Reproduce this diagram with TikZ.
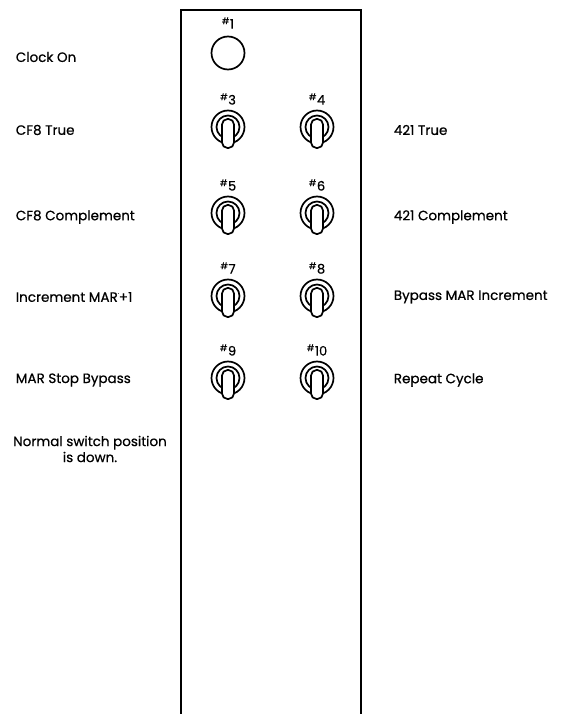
\documentclass[tikz,border=0pt]{standalone}
\usepackage{fontspec}
\setmainfont[FakeBold=0.6]{Poppins}
\begin{document}
\begin{tikzpicture}[x=1pt,y=-1pt,line width=1.7pt,
	lbl/.style={anchor=west,inner sep=0pt,font=\fontsize{13.5}{16}\selectfont},
	num/.style={inner sep=0pt,font=\fontsize{13}{15}\selectfont}]
	\useasboundingbox (0,0) rectangle (566,714);
	% panel
	\draw (181,714) -- (181,10) -- (361,10) -- (361,714);
	% clock button
	\draw (228,53) circle (16.5);
	\node[num] (n1) at (228,23) {\textsuperscript{\#}1};
	% toggle switches
	\foreach \n/\x/\y in {3/228/127,4/317/127,5/228/213,6/317/213,7/228/296,8/317/296,9/228/378,10/317/378}{
		\draw (\x,\y) circle (16.5);
		\draw (\x,\y) circle (11.5);
		\draw[fill=white,rounded corners=5.5] (\x-6,\y-8) rectangle (\x+6,\y+21);
		\node[num] (n\n) at (\x,\y-28) {\textsuperscript{\#}\n};
	}
	% left labels
	\node[lbl] (clock) at (15,57) {Clock On};
	\node[lbl] (cftrue) at (15,130) {CF8 True};
	\node[lbl] (cfcomp) at (15,217) {CF8 Complement};
	\node[lbl] (incmar) at (15,297) {Increment MAR\raisebox{1.1ex}{\tiny.}+1};
	\node[lbl] (marstop) at (15,380) {MAR Stop Bypass};
	\node[lbl,anchor=center,align=center] (note) at (90,449) {Normal switch position\\is down.};
	% right labels
	\node[lbl] (ftrue) at (393,130) {421 True};
	\node[lbl] (fcomp) at (393,217) {421 Complement};
	\node[lbl] (bypass) at (393,297) {Bypass MAR Increment};
	\node[lbl] (repeat) at (393,380) {Repeat Cycle};
\end{tikzpicture}
\end{document}
